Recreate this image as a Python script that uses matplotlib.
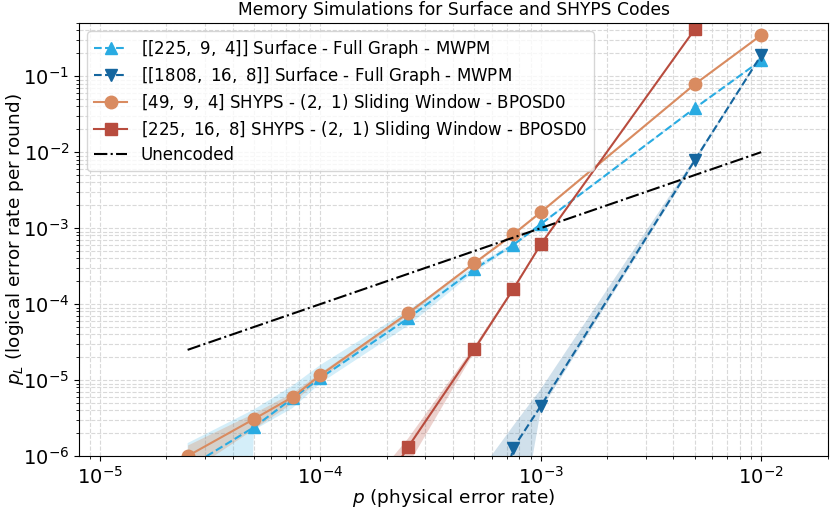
import numpy as np
import matplotlib
matplotlib.use("Agg")
import matplotlib.pyplot as plt

# physical error rates
p_small = [2.5e-5, 5e-5, 7.5e-5, 1e-4, 2.5e-4, 5e-4, 7.5e-4, 1e-3, 5e-3, 1e-2]

# [[225,9,4]] surface code (lower bound 0 at first point -> tiny value)
surf225 = [7.0e-7, 2.4e-6, 5.8e-6, 1.06e-5, 6.5e-5, 2.9e-4, 6.0e-4, 1.13e-3, 3.8e-2, 0.162]
surf225_lo = [1e-30, 2.2e-6, 4.3e-6, 9.1e-6, 5.2e-5, 2.65e-4, 5.7e-4, 1.09e-3, 3.7e-2, 0.16]
surf225_hi = [1.48e-6, 4.1e-6, 8.5e-6, 1.58e-5, 8.3e-5, 3.15e-4, 6.3e-4, 1.17e-3, 3.9e-2, 0.165]

# [[1808,16,8]] surface code
p_surf1808 = [5e-4, 7.5e-4, 1e-3, 5e-3, 1e-2]
surf1808 = [1e-8, 1.27e-6, 4.55e-6, 7.85e-3, 0.189]
surf1808_lo = [1e-9, 3.4e-8, 4.0e-6, 7.3e-3, 0.184]
surf1808_hi = [5e-7, 2.5e-6, 7.6e-6, 8.4e-3, 0.194]

# [49,9,4] SHYPS
shyps49 = [1.0e-6, 3.07e-6, 6.0e-6, 1.16e-5, 7.6e-5, 3.47e-4, 8.3e-4, 1.62e-3, 7.85e-2, 0.347]
shyps49_lo = [6e-7, 2.3e-6, 5.1e-6, 1.06e-5, 7.3e-5, 3.38e-4, 8.1e-4, 1.59e-3, 7.8e-2, 0.345]
shyps49_hi = [1.4e-6, 3.7e-6, 6.9e-6, 1.27e-5, 7.9e-5, 3.56e-4, 8.5e-4, 1.65e-3, 7.9e-2, 0.349]

# [225,16,8] SHYPS
p_shyps225 = [1e-4, 2.5e-4, 5e-4, 7.5e-4, 1e-3, 5e-3]
shyps225 = [2e-8, 1.31e-6, 2.56e-5, 1.57e-4, 6.1e-4, 0.415]
shyps225_lo = [5e-9, 7.6e-7, 2.35e-5, 1.5e-4, 5.95e-4, 0.41]
shyps225_hi = [7e-8, 1.7e-6, 2.8e-5, 1.65e-4, 6.25e-4, 0.42]

# unencoded
p_unenc = [2.5e-5, 1e-2]
unenc = [2.5e-5, 1e-2]

c_light = "#29abe2"
c_dark = "#15669f"
c_orange = "#d98b60"
c_red = "#b84c3e"

fig = plt.figure(figsize=(8.3, 5.13), dpi=100)
ax = fig.add_axes([0.0952, 0.111, 0.9024, 0.844])

ax.fill_between(p_small, surf225_lo, surf225_hi, color=c_light, alpha=0.2, lw=0)
ax.fill_between(p_surf1808, surf1808_lo, surf1808_hi, color=c_dark, alpha=0.2, lw=0)
ax.fill_between(p_small, shyps49_lo, shyps49_hi, color=c_orange, alpha=0.3, lw=0)
ax.fill_between(p_shyps225, shyps225_lo, shyps225_hi, color=c_red, alpha=0.25, lw=0)

ax.plot(p_small, surf225, "--^", color=c_light, ms=9, lw=1.5,
        label=r"$[[225,\ 9,\ 4]]$ Surface - Full Graph - MWPM")
ax.plot(p_surf1808, surf1808, "--v", color=c_dark, ms=9, lw=1.5,
        label=r"$[[1808,\ 16,\ 8]]$ Surface - Full Graph - MWPM")
ax.plot(p_small, shyps49, "-o", color=c_orange, ms=9, lw=1.5,
        label=r"$[49,\ 9,\ 4]$ SHYPS - $(2,\ 1)$ Sliding Window - BPOSD0")
ax.plot(p_shyps225, shyps225, "-s", color=c_red, ms=9, lw=1.5,
        label=r"$[225,\ 16,\ 8]$ SHYPS - $(2,\ 1)$ Sliding Window - BPOSD0")
ax.plot(p_unenc, unenc, "-.", color="black", lw=1.5, label="Unencoded")

ax.set_xscale("log")
ax.set_yscale("log")
ax.set_xlim(8.04e-6, 2.01e-2)
ax.set_ylim(1e-6, 0.5)
ax.grid(True, which="both", ls="--", color="#d9d9d9", lw=0.8)
ax.set_axisbelow(True)

ax.tick_params(axis="both", which="major", labelsize=14)
ax.set_xlabel(r"$p$ (physical error rate)", fontsize=13.3, labelpad=-0.5)
ax.set_ylabel(r"$p_L$ (logical error rate per round)", fontsize=13.3, labelpad=-2.5)
ax.set_title("Memory Simulations for Surface and SHYPS Codes", fontsize=12.3)
ax.legend(loc="upper left", fontsize=12, labelspacing=0.3)

fig.savefig("out.png", dpi=100)
